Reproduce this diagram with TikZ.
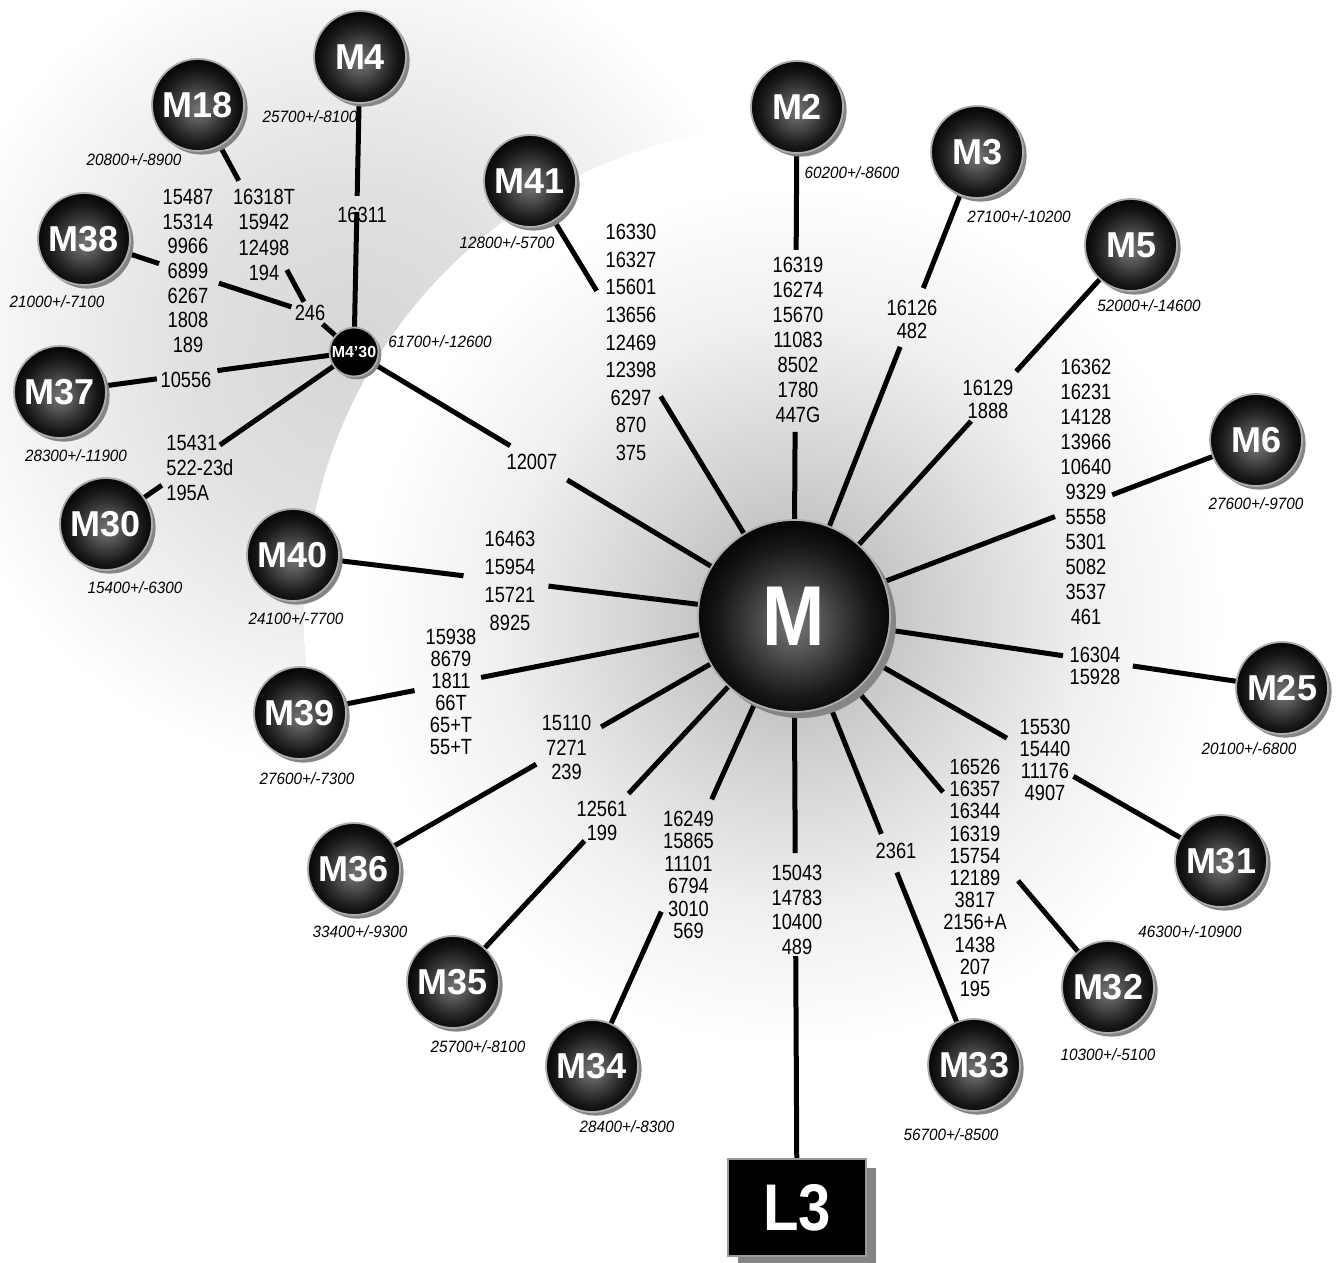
\documentclass[tikz,border=0pt]{standalone}
\usepackage{fontspec}
\newfontfamily\mutfont{Liberation Sans}[FakeStretch=0.83]
\newfontfamily\datefont{Liberation Sans}[FakeStretch=0.93]
\newfontfamily\ballfont{Liberation Sans}
\newfontfamily\hubfont{Liberation Sans}[FakeStretch=0.88]
\usetikzlibrary{calc}
\pgfdeclarelayer{bg}
\pgfdeclarelayer{edges}
\pgfsetlayers{bg,edges,main}
\pgfdeclareradialshading{ballshade}{\pgfpoint{0bp}{-2.5bp}}{color(0bp)=(black!55); color(7bp)=(black!66); color(14bp)=(black!80); color(20bp)=(black!91); color(25bp)=(black!97); color(50bp)=(black)}
\pgfdeclareradialshading{haloM}{\pgfpoint{0bp}{0bp}}{color(0bp)=(black!26); color(5bp)=(black!22); color(8.5bp)=(black!16); color(15bp)=(black!6); color(22bp)=(white); color(50bp)=(white)}
\pgfdeclareradialshading{haloA}{\pgfpoint{0bp}{0bp}}{color(0bp)=(black!16); color(10bp)=(black!12); color(19bp)=(black!5); color(25bp)=(white); color(50bp)=(white)}
\tikzset{
  sphere/.style={circle, inner sep=0pt, outer sep=0pt, shade, shading=ballshade, draw=black!32, line width=0.9pt, text=white},
  ball/.style={sphere, minimum size=46pt, preaction={fill=black!48, transform canvas={shift={(1.8pt,-1.8pt)}}}, font=\ballfont\bfseries\fontsize{18}{18}\selectfont},
  hub/.style={sphere, minimum size=96pt, preaction={fill=black!48, transform canvas={shift={(3pt,-3pt)}}}, font=\hubfont\bfseries\fontsize{42.5}{42.5}\selectfont},
  minihub/.style={circle, inner sep=0pt, outer sep=0pt, minimum size=24.5pt, fill=black, draw=black!32, line width=0.9pt, text=white, preaction={fill=black!48, transform canvas={shift={(1.4pt,-1.4pt)}}}, font=\ballfont\bfseries\fontsize{8}{8}\selectfont},
  rootbox/.style={rectangle, inner sep=0pt, outer sep=0pt, minimum width=69pt, minimum height=48.5pt, fill=black, draw=black!40, line width=0.8pt, text=white, preaction={fill=black!48, transform canvas={shift={(5pt,-4.5pt)}}}, font=\hubfont\bfseries\fontsize{33}{33}\selectfont},
  mut/.style={inner sep=0pt, align=center, font=\mutfont\fontsize{11}{#1}\selectfont},
  mut/.default=12.5,
  datelab/.style={inner sep=0pt, font=\datefont\itshape\fontsize{8.2}{9}\selectfont},
  conn/.style={line width=2.5pt}
}
\newcommand\gapline[4]{%
  \draw[conn] (#1) -- ($(#1)!(#3)!(#2)$);
  \draw[conn] ($(#1)!(#4)!(#2)$) -- (#2);}
\begin{document}
\begin{tikzpicture}[x=0.5pt,y=-0.5pt]
\useasboundingbox (0,0) rectangle (1336,1262);
% hubs
\node[hub] (M) at (794,616) {M};
\node[minihub] (M430) at (354,352) {M4’30};
\node[rootbox] (L3) at (797,1207.5) {L3};
% balls
\node[ball] (M4) at (360,57) {M4};
\node[ball] (M18) at (198,105) {M18};
\node[ball] (M38) at (84,239) {M38};
\node[ball] (M37) at (60,392) {M37};
\node[ball] (M30) at (106,524) {M30};
\node[ball] (M40) at (293,555) {M40};
\node[ball] (M39) at (300,713) {M39};
\node[ball] (M36) at (354,869) {M36};
\node[ball] (M35) at (453,982) {M35};
\node[ball] (M34) at (592,1066) {M34};
\node[ball] (M33) at (974,1065) {M33};
\node[ball] (M32) at (1108,987) {M32};
\node[ball] (M31) at (1221,861) {M31};
\node[ball] (M25) at (1282,688) {M25};
\node[ball] (M6) at (1256,440) {M6};
\node[ball] (M5) at (1131,245) {M5};
\node[ball] (M3) at (977,152) {M3};
\node[ball] (M2) at (797,107) {M2};
\node[ball] (M41) at (530,181) {M41};
% dates
\node[datelab] (dM4) at (310,117) {25700+/-8100};
\node[datelab] (dM18) at (134,160) {20800+/-8900};
\node[datelab] (dM38) at (57,302) {21000+/-7100};
\node[datelab] (dM37) at (76,456) {28300+/-11900};
\node[datelab] (dM30) at (135,588) {15400+/-6300};
\node[datelab] (dM40) at (296,619) {24100+/-7700};
\node[datelab] (dM39) at (307,779) {27600+/-7300};
\node[datelab] (dM36) at (360,932) {33400+/-9300};
\node[datelab] (dM35) at (478,1047) {25700+/-8100};
\node[datelab] (dM34) at (627,1127) {28400+/-8300};
\node[datelab] (dM33) at (951,1135) {56700+/-8500};
\node[datelab] (dM32) at (1108,1055) {10300+/-5100};
\node[datelab] (dM31) at (1190,932) {46300+/-10900};
\node[datelab] (dM25) at (1249,749) {20100+/-6800};
\node[datelab] (dM6) at (1256,504) {27600+/-9700};
\node[datelab] (dM5) at (1149,306) {52000+/-14600};
\node[datelab] (dM3) at (1019,217) {27100+/-10200};
\node[datelab] (dM2) at (852,173) {60200+/-8600};
\node[datelab] (dM41) at (507,243) {12800+/-5700};
\node[datelab] (dM430) at (440,342) {61700+/-12600};
% mutation labels
\node[mut=13.8] (l41) at (631,342.5) {16330\\16327\\15601\\13656\\12469\\12398\\6297\\870\\375};
\node[mut=12.5] (l2) at (798,340) {16319\\16274\\15670\\11083\\8502\\1780\\447G};
\node[mut=11.5] (l3) at (912,319.5) {16126\\482};
\node[mut=11.5] (l5) at (988,399.5) {16129\\1888};
\node[mut=12.5] (l6) at (1086,492) {16362\\16231\\14128\\13966\\10640\\9329\\5558\\5301\\5082\\3537\\461};
\node[mut=11] (l25) at (1095,666) {16304\\15928};
\node[mut=11] (l31) at (1045,760) {15530\\15440\\11176\\4907};
\node[mut=11.1] (l32) at (975,878) {16526\\16357\\16344\\16319\\15754\\12189\\3817\\2156+A\\1438\\207\\195};
\node[mut] (l33) at (896,851) {2361};
\node[mut=12.35] (lL3) at (797,910) {15043\\14783\\10400\\489};
\node[mut=11.2] (l34) at (688.5,875) {16249\\15865\\11101\\6794\\3010\\569};
\node[mut=12] (l35) at (602,821) {12561\\199};
\node[mut=12.3] (l36) at (566.5,747.5) {15110\\7271\\239};
\node[mut=11] (l39) at (451,692) {15938\\8679\\1811\\66T\\65+T\\55+T};
\node[mut=14] (l40) at (510,581) {16463\\15954\\15721\\8925};
\node[mut] (l12007) at (532,462) {12007};
\node[mut] (l37) at (186,380) {10556};
\node[mut=12.5, align=left, anchor=west] (l30) at (166,468) {15431\\522-23d\\195A};
\node[mut] (l4) at (362,215) {16311};
\node[mut=12.65] (l18) at (264,235) {16318T\\15942\\12498\\194};
\node[mut=12.35] (l38) at (188,271) {15487\\15314\\9966\\6899\\6267\\1808\\189};
\node[mut, inner sep=1.5pt] (j246) at (310,313) {246};
% background
\begin{pgfonlayer}{bg}
\fill[white] (0,0) rectangle (1336,1262);
\shade[shading=haloA] (M430) circle (210pt);
\shade[shading=haloM] (M) circle (245pt);
\end{pgfonlayer}
% connectors
\begin{pgfonlayer}{edges}
\gapline{M41}{M}{598,290}{663,395}
\gapline{M2}{M}{797,250}{797,432}
\gapline{M3}{M}{928,290}{903,348}
\gapline{M5}{M}{1020,375}{972,422}
\gapline{M6}{M}{1113,497}{1057,522}
\gapline{M25}{M}{1132,671}{1062,662}
\gapline{M31}{M}{1073,777}{1007,738}
\gapline{M32}{M}{1013,885}{942,793}
\gapline{M33}{M}{903,870}{886,832}
\gapline{L3}{M}{797,956}{797,853}
\gapline{M34}{M}{662,912}{711,799}
\gapline{M35}{M}{589,845}{630,795}
\gapline{M36}{M}{539,769}{603,730}
\gapline{M39}{M}{415,693}{482,682}
\gapline{M40}{M}{463,580}{548,590}
\gapline{M430}{M}{510,446}{566,482}
\gapline{M4}{M430}{359,196}{360,212}
\gapline{M37}{M430}{157,380}{218,375}
\gapline{M30}{M430}{163,487}{222,448}
\gapline{M38}{j246}{157,270}{218,286}
\gapline{M18}{j246}{240,180}{283,272}
\draw[conn] (j246) -- (M430);
\end{pgfonlayer}
\end{tikzpicture}
\end{document}
